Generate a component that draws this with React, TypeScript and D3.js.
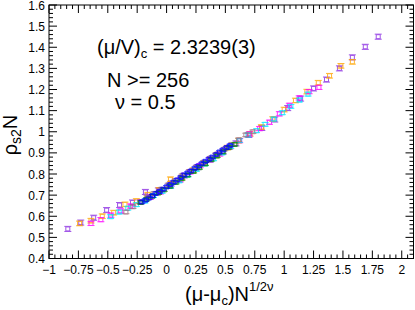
import React from 'react';
import * as d3 from 'd3';

// one series per system size, x = (mu-muc) N^(1/2nu), y = rho_s2 N
const seriesNames = ['N=1296', 'N=1024', 'N=784', 'N=576', 'N=400', 'N=324', 'N=256'];
const seriesColors = ['#8a2be2', '#ffa500', '#ff00ff', '#00e5ff', '#a07080', '#008b00', '#0000ff'];
const seriesErr = [0.012, 0.011, 0.01, 0.009, 0.008, 0.007, 0.006];

const violetX = [-0.84, -0.73, -0.62, -0.51, -0.40, -0.29, -0.18, -0.07, 0.04, 0.15, 0.26, 0.37, 0.48, 0.59, 0.70, 0.81, 0.92, 1.03, 1.14, 1.25, 1.36, 1.47, 1.58, 1.69, 1.80];
const violetY = [0.540, 0.570, 0.593, 0.629, 0.653, 0.665, 0.715, 0.722, 0.755, 0.793, 0.832, 0.868, 0.905, 0.945, 0.985, 1.018, 1.058, 1.112, 1.157, 1.205, 1.247, 1.300, 1.352, 1.402, 1.450];

const orangeX = [-0.74, -0.643, -0.547, -0.45, -0.354, -0.257, -0.16, -0.064, 0.033, 0.13, 0.226, 0.323, 0.42, 0.516, 0.613, 0.71, 0.806, 0.903, 1.0, 1.096, 1.193, 1.29, 1.386, 1.483, 1.58];
const orangeY = [0.566, 0.579, 0.600, 0.617, 0.656, 0.672, 0.702, 0.725, 0.775, 0.783, 0.818, 0.852, 0.888, 0.925, 0.958, 0.990, 1.022, 1.060, 1.105, 1.148, 1.190, 1.232, 1.265, 1.312, 1.331];

const magentaX = [-0.643, -0.559, -0.474, -0.39, -0.306, -0.221, -0.137, -0.053, 0.032, 0.116, 0.2, 0.285, 0.369, 0.453, 0.538, 0.622, 0.706, 0.791, 0.875, 0.959, 1.044, 1.128, 1.212, 1.296];
const magentaY = [0.566, 0.584, 0.605, 0.625, 0.648, 0.668, 0.690, 0.715, 0.742, 0.772, 0.810, 0.840, 0.868, 0.895, 0.928, 0.958, 0.990, 1.015, 1.045, 1.085, 1.125, 1.160, 1.190, 1.210];

const cyanX = [-0.476, -0.403, -0.33, -0.257, -0.184, -0.111, -0.038, 0.035, 0.108, 0.181, 0.254, 0.327, 0.4, 0.473, 0.546, 0.619, 0.692, 0.765, 0.838, 0.911, 0.984, 1.057, 1.13, 1.203];
const cyanY = [0.598, 0.620, 0.638, 0.655, 0.672, 0.698, 0.718, 0.742, 0.768, 0.795, 0.822, 0.848, 0.872, 0.900, 0.930, 0.958, 0.985, 1.005, 1.035, 1.060, 1.090, 1.120, 1.150, 1.178];

const brownX = [-0.346, -0.286, -0.226, -0.166, -0.106, -0.046, 0.014, 0.074, 0.134, 0.194, 0.254, 0.314, 0.374, 0.434, 0.494, 0.554, 0.614, 0.674, 0.734];
const brownY = [0.620, 0.645, 0.668, 0.690, 0.708, 0.728, 0.748, 0.768, 0.792, 0.812, 0.832, 0.855, 0.875, 0.895, 0.918, 0.940, 0.962, 0.985, 1.000];

const greenX = [-0.22, -0.17, -0.12, -0.07, -0.02, 0.03, 0.08, 0.13, 0.18, 0.23, 0.28, 0.33, 0.38, 0.43, 0.48, 0.53, 0.58];
const greenY = [0.665, 0.680, 0.695, 0.710, 0.725, 0.742, 0.760, 0.778, 0.795, 0.812, 0.830, 0.848, 0.868, 0.885, 0.905, 0.925, 0.940];

const blueX = [-0.21, -0.18, -0.15, -0.12, -0.09, -0.06, -0.03, 0.0, 0.03, 0.06, 0.09, 0.12, 0.15, 0.18, 0.21, 0.24, 0.27, 0.30, 0.33, 0.36, 0.39, 0.42, 0.45, 0.48, 0.51, 0.54];
const blueY = [0.668, 0.676, 0.686, 0.697, 0.708, 0.717, 0.728, 0.739, 0.750, 0.761, 0.772, 0.784, 0.795, 0.805, 0.815, 0.827, 0.838, 0.849, 0.860, 0.870, 0.880, 0.892, 0.904, 0.914, 0.925, 0.935];

const allX = [violetX, orangeX, magentaX, cyanX, brownX, greenX, blueX];
const allY = [violetY, orangeY, magentaY, cyanY, brownY, greenY, blueY];

const xTicks = [-1, -0.75, -0.5, -0.25, 0, 0.25, 0.5, 0.75, 1, 1.25, 1.5, 1.75, 2];
const yTicks = [0.4, 0.5, 0.6, 0.7, 0.8, 0.9, 1, 1.1, 1.2, 1.3, 1.4, 1.5, 1.6];

const W = 415;
const H = 310;
const left = 49;
const right = 413.5;
const top = 5;
const bottom = 258.5;
const font = '"Liberation Sans", Arial, Helvetica, sans-serif';

export default function App() {
  const x = d3.scaleLinear().domain([-1, 2.1]).range([left, right]);
  const y = d3.scaleLinear().domain([0.4, 1.6]).range([bottom, top]);

  const xMinor = d3.range(-1, 2.1001, 0.05).filter((v) => Math.abs(v / 0.25 - Math.round(v / 0.25)) > 1e-6);
  const yMinor = d3.range(0.4, 1.6001, 0.02).filter((v) => Math.abs(v / 0.1 - Math.round(v / 0.1)) > 1e-6);

  const fmt = (v: number) => d3.format('~g')(v);

  return (
    <svg width={W} height={H} style={{ position: 'absolute', left: 0, top: 0, background: '#fff' }} fontFamily={font}>
      {/* data */}
      {allX.map((xs, s) => (
        <g key={seriesNames[s]} stroke={seriesColors[s]} fill="none" strokeWidth={1} opacity={0.8}>
          {xs.map((xv, i) => {
            const cx = x(xv);
            const cy = y(allY[s][i]);
            const y1 = y(allY[s][i] + seriesErr[s]);
            const y2 = y(allY[s][i] - seriesErr[s]);
            return (
              <g key={i}>
                <line x1={cx} x2={cx} y1={y1} y2={cy - 2} />
                <line x1={cx} x2={cx} y1={cy + 2} y2={y2} />
                <line x1={cx - 3.5} x2={cx + 3.5} y1={y1} y2={y1} />
                <line x1={cx - 3.5} x2={cx + 3.5} y1={y2} y2={y2} />
                <rect x={cx - 2} y={cy - 2} width={4} height={4} />
              </g>
            );
          })}
        </g>
      ))}

      {/* frame + ticks */}
      <rect x={left} y={top} width={right - left} height={bottom - top} fill="none" stroke="#000" strokeWidth={1} />
      <g stroke="#000" strokeWidth={1}>
        {xTicks.map((t) => (
          <g key={'xt' + t}>
            <line x1={x(t)} x2={x(t)} y1={bottom} y2={bottom - 8} />
            <line x1={x(t)} x2={x(t)} y1={top} y2={top + 8} />
          </g>
        ))}
        {xMinor.map((t, i) => (
          <g key={'xm' + i}>
            <line x1={x(t)} x2={x(t)} y1={bottom} y2={bottom - 4} />
            <line x1={x(t)} x2={x(t)} y1={top} y2={top + 4} />
          </g>
        ))}
        {yTicks.map((t) => (
          <g key={'yt' + t}>
            <line x1={left} x2={left + 8} y1={y(t)} y2={y(t)} />
            <line x1={right} x2={right - 8} y1={y(t)} y2={y(t)} />
          </g>
        ))}
        {yMinor.map((t, i) => (
          <g key={'ym' + i}>
            <line x1={left} x2={left + 4} y1={y(t)} y2={y(t)} />
            <line x1={right} x2={right - 4} y1={y(t)} y2={y(t)} />
          </g>
        ))}
      </g>

      {/* tick labels */}
      <g fontSize={12} fill="#000">
        {xTicks.map((t) => (
          <text key={'xl' + t} x={x(t)} y={bottom + 15} textAnchor="middle">{fmt(t)}</text>
        ))}
        {yTicks.map((t) => (
          <text key={'yl' + t} x={left - 4} y={y(t) + 4.5} textAnchor="end">{fmt(t)}</text>
        ))}
      </g>

      {/* axis titles */}
      <text x={185} y={301} fontSize={20}>
        (μ-μ<tspan fontSize={13} dy={4}>c</tspan><tspan dy={-4}>)N</tspan>
        <tspan fontSize={13} dy={-10}>1/2ν</tspan>
      </text>
      <text transform="translate(17,135) rotate(-90)" fontSize={20} textAnchor="middle">
        ρ<tspan fontSize={14} dy={4}>s2</tspan><tspan dy={-4}>N</tspan>
      </text>

      {/* annotations */}
      <g fontSize={20}>
        <text x={97} y={54}>
          (μ/V)<tspan fontSize={13} dy={4}>c</tspan><tspan dy={-4}> = 2.3239(3)</tspan>
        </text>
        <text x={107} y={87}>N &gt;= 256</text>
        <text x={115} y={109}>ν = 0.5</text>
      </g>
    </svg>
  );
}
